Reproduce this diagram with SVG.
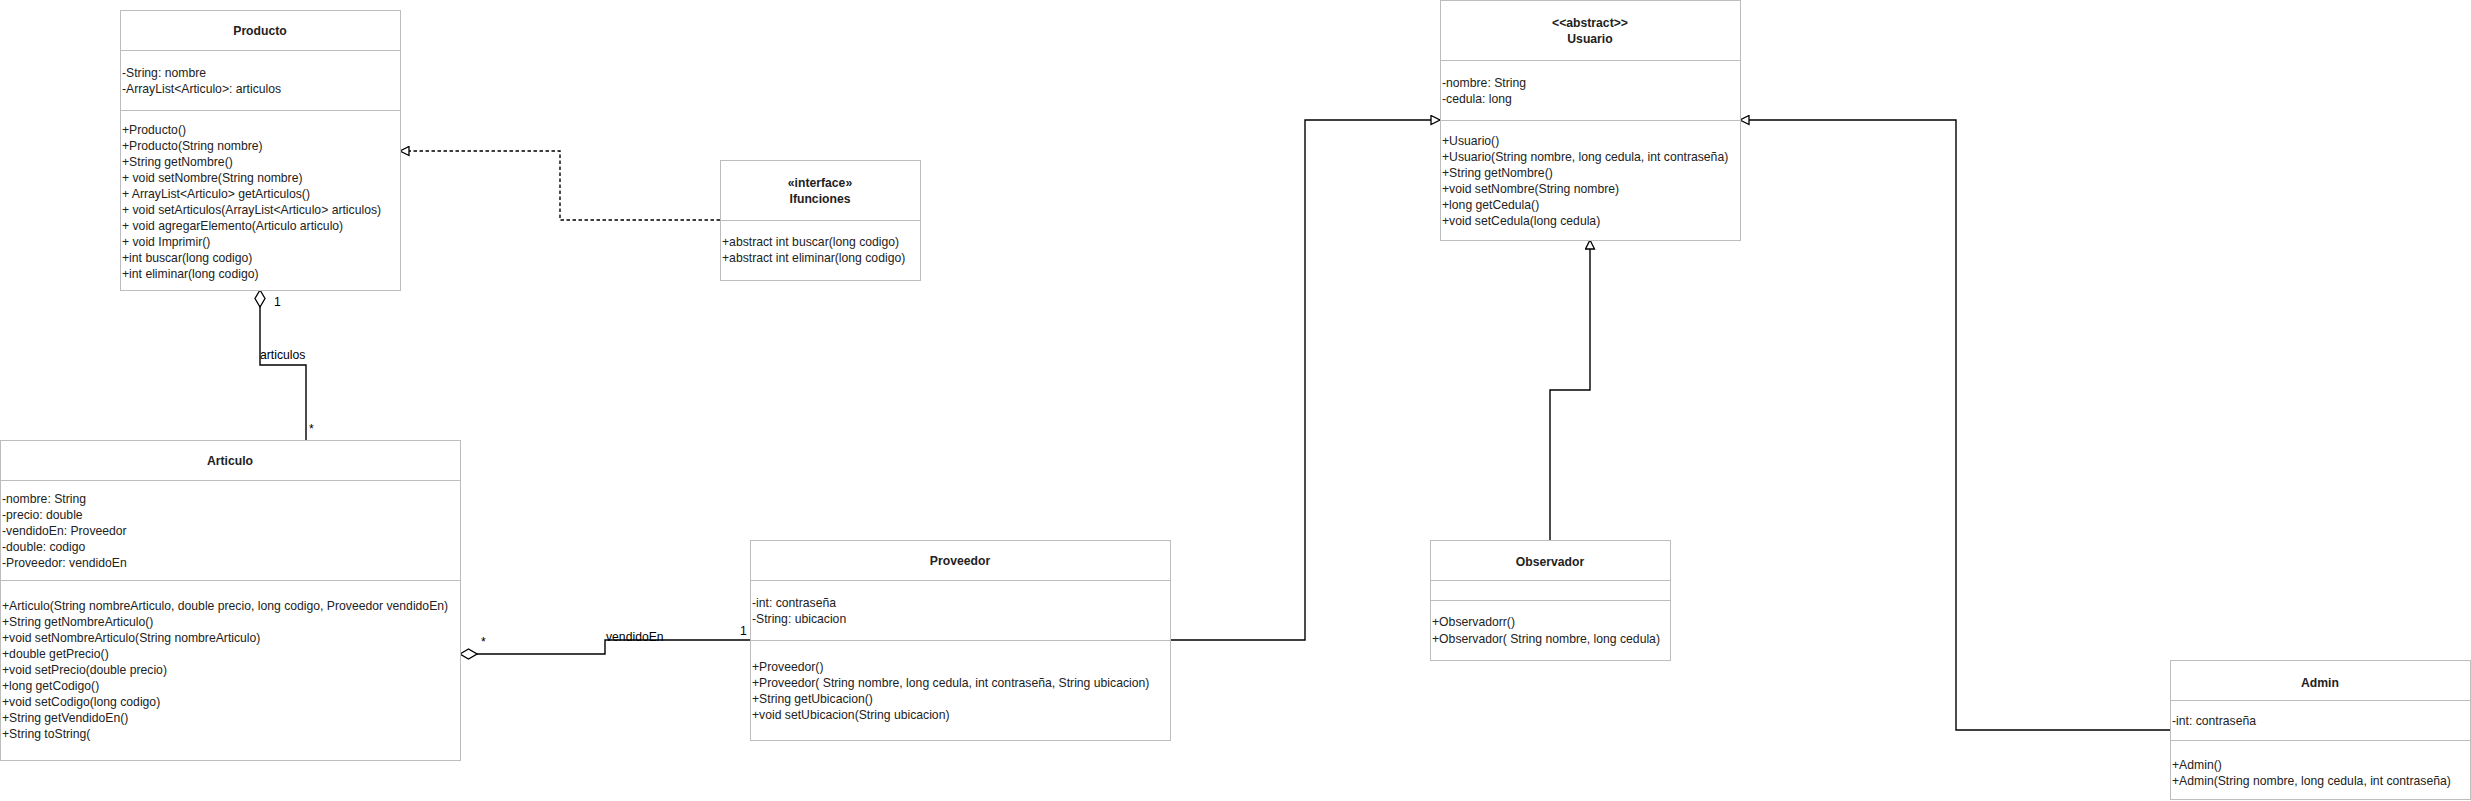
<svg xmlns="http://www.w3.org/2000/svg" width="2471" height="801" viewBox="0 0 2471 801">
<style>
.box{fill:#fff;stroke:#bdbdbd;stroke-width:1}
.dv{stroke:#bdbdbd;stroke-width:1;fill:none}
text{font-family:"Liberation Sans",Arial,sans-serif;font-size:12.2px;fill:#222}
.h{font-weight:bold;text-anchor:middle}
.c{fill:none;stroke:#000;stroke-width:1.4}
.d{stroke-dasharray:3.5 2.5}
.lbl{fill:#000}
</style>
<defs>
<marker id="tri" viewBox="0 0 11 11" refX="10" refY="5.5" markerWidth="11" markerHeight="11" markerUnits="userSpaceOnUse" orient="auto">
<path d="M1,1 L10,5.5 L1,10 Z" fill="#fff" stroke="#000" stroke-width="1.3"/>
</marker>
<marker id="dia" viewBox="0 0 19 12" refX="1" refY="6" markerWidth="19" markerHeight="12" markerUnits="userSpaceOnUse" orient="auto">
<path d="M1,6 L9.5,1 L18,6 L9.5,11 Z" fill="#fff" stroke="#000" stroke-width="1.3"/>
</marker>
</defs>
<rect x="0" y="0" width="2471" height="801" fill="#fff"/>

<g id="connectors">
<path class="c d" d="M720,220 H560 V151 H400" marker-end="url(#tri)"/>
<path class="c" d="M260,290 V365 H306 V440" marker-start="url(#dia)"/>
<path class="c" d="M460,654 H605 V640 H750" marker-start="url(#dia)"/>
<path class="c" d="M1170,640 H1305 V120 H1440" marker-end="url(#tri)"/>
<path class="c" d="M1550,540 V390 H1590 V240" marker-end="url(#tri)"/>
<path class="c" d="M2170,730 H1956 V120 H1740" marker-end="url(#tri)"/>
<text class="lbl" x="274" y="306">1</text>
<text class="lbl" x="260" y="359">articulos</text>
<text class="lbl" x="309" y="433">*</text>
<text class="lbl" x="481" y="646">*</text>
<text class="lbl" x="606" y="641">vendidoEn</text>
<text class="lbl" x="740" y="635">1</text>
</g>

<g id="Producto">
<rect class="box" x="120.5" y="10.5" width="280" height="280"/>
<path class="dv" d="M120.5,50.5 H400.5 M120.5,110.5 H400.5"/>
<text class="h" x="260" y="35">Producto</text>
<text x="122" y="77">-String: nombre</text>
<text x="122" y="93">-ArrayList&lt;Articulo&gt;: articulos</text>
<text x="122" y="134">+Producto()</text>
<text x="122" y="150">+Producto(String nombre)</text>
<text x="122" y="166">+String getNombre()</text>
<text x="122" y="182">+ void setNombre(String nombre)</text>
<text x="122" y="198">+ ArrayList&lt;Articulo&gt; getArticulos()</text>
<text x="122" y="214">+ void setArticulos(ArrayList&lt;Articulo&gt; articulos)</text>
<text x="122" y="230">+ void agregarElemento(Articulo articulo)</text>
<text x="122" y="246">+ void Imprimir()</text>
<text x="122" y="262">+int buscar(long codigo)</text>
<text x="122" y="278">+int eliminar(long codigo)</text>
</g>

<g id="Ifunciones">
<rect class="box" x="720.5" y="160.5" width="200" height="120"/>
<path class="dv" d="M720.5,220.5 H920.5"/>
<text class="h" x="820" y="187">«interface»</text>
<text class="h" x="820" y="203">Ifunciones</text>
<text x="722" y="246">+abstract int buscar(long codigo)</text>
<text x="722" y="262">+abstract int eliminar(long codigo)</text>
</g>

<g id="Articulo">
<rect class="box" x="0.5" y="440.5" width="460" height="320"/>
<path class="dv" d="M0.5,480.5 H460.5 M0.5,580.5 H460.5"/>
<text class="h" x="230" y="465">Articulo</text>
<text x="2" y="503">-nombre: String</text>
<text x="2" y="519">-precio: double</text>
<text x="2" y="535">-vendidoEn: Proveedor</text>
<text x="2" y="551">-double: codigo</text>
<text x="2" y="567">-Proveedor: vendidoEn</text>
<text x="2" y="610">+Articulo(String nombreArticulo, double precio, long codigo, Proveedor vendidoEn)</text>
<text x="2" y="626">+String getNombreArticulo()</text>
<text x="2" y="642">+void setNombreArticulo(String nombreArticulo)</text>
<text x="2" y="658">+double getPrecio()</text>
<text x="2" y="674">+void setPrecio(double precio)</text>
<text x="2" y="690">+long getCodigo()</text>
<text x="2" y="706">+void setCodigo(long codigo)</text>
<text x="2" y="722">+String getVendidoEn()</text>
<text x="2" y="738">+String toString(</text>
</g>

<g id="Proveedor">
<rect class="box" x="750.5" y="540.5" width="420" height="200"/>
<path class="dv" d="M750.5,580.5 H1170.5 M750.5,640.5 H1170.5"/>
<text class="h" x="960" y="565">Proveedor</text>
<text x="752" y="607">-int: contraseña</text>
<text x="752" y="623">-String: ubicacion</text>
<text x="752" y="671">+Proveedor()</text>
<text x="752" y="687">+Proveedor( String nombre, long cedula, int contraseña, String ubicacion)</text>
<text x="752" y="703">+String getUbicacion()</text>
<text x="752" y="719">+void setUbicacion(String ubicacion)</text>
</g>

<g id="Usuario">
<rect class="box" x="1440.5" y="0.5" width="300" height="240"/>
<path class="dv" d="M1440.5,60.5 H1740.5 M1440.5,120.5 H1740.5"/>
<text class="h" x="1590" y="27">&lt;&lt;abstract&gt;&gt;</text>
<text class="h" x="1590" y="43">Usuario</text>
<text x="1442" y="87">-nombre: String</text>
<text x="1442" y="103">-cedula: long</text>
<text x="1442" y="145">+Usuario()</text>
<text x="1442" y="161">+Usuario(String nombre, long cedula, int contraseña)</text>
<text x="1442" y="177">+String getNombre()</text>
<text x="1442" y="193">+void setNombre(String nombre)</text>
<text x="1442" y="209">+long getCedula()</text>
<text x="1442" y="225">+void setCedula(long cedula)</text>
</g>

<g id="Observador">
<rect class="box" x="1430.5" y="540.5" width="240" height="120"/>
<path class="dv" d="M1430.5,580.5 H1670.5 M1430.5,600.5 H1670.5"/>
<text class="h" x="1550" y="566">Observador</text>
<text x="1432" y="626">+Observadorr()</text>
<text x="1432" y="643">+Observador( String nombre, long cedula)</text>
</g>

<g id="Admin">
<rect class="box" x="2170.5" y="660.5" width="300" height="139"/>
<path class="dv" d="M2170.5,700.5 H2470.5 M2170.5,740.5 H2470.5"/>
<text class="h" x="2320" y="687">Admin</text>
<text x="2172" y="725">-int: contraseña</text>
<text x="2172" y="769">+Admin()</text>
<text x="2172" y="785">+Admin(String nombre, long cedula, int contraseña)</text>
</g>
</svg>
